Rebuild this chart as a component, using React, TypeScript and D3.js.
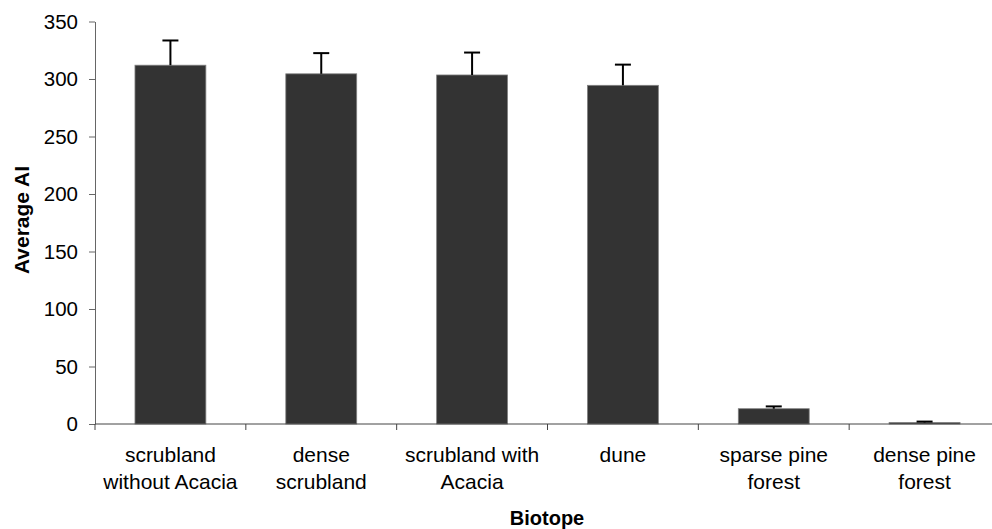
import React, { useEffect, useRef } from 'react'
import * as d3 from 'd3'

const categories = [
  'scrubland\nwithout Acacia',
  'dense\nscrubland',
  'scrubland with\nAcacia',
  'dune',
  'sparse pine\nforest',
  'dense pine\nforest',
]
const means = [312, 304.5, 303.5, 294.5, 13.3, 1.3]
const errors = [21.5, 18, 19.5, 18, 2, 0.8]
const yTicks = [0, 50, 100, 150, 200, 250, 300, 350]

const W = 992
const H = 529
const margin = { top: 21.5, left: 95, bottom: 105, right: -8 }

export default function App() {
  const ref = useRef<SVGSVGElement>(null)

  useEffect(() => {
    const svg = d3.select(ref.current)
    svg.selectAll('*').remove()

    const x = d3.scaleBand()
      .domain(categories)
      .range([margin.left, W - margin.right])
      .paddingInner(0.53)
      .paddingOuter(0.265)
    const y = d3.scaleLinear()
      .domain([0, 350])
      .range([H - margin.bottom, margin.top])

    const font = 'Liberation Sans, Arial, sans-serif'

    // bars
    svg.selectAll('.bar')
      .data(categories)
      .enter().append('rect')
      .attr('x', d => x(d)!)
      .attr('width', x.bandwidth())
      .attr('y', (d, i) => y(means[i]))
      .attr('height', (d, i) => y(0) - y(means[i]))
      .attr('fill', '#333333')
      .attr('stroke', '#808080')
      .attr('stroke-width', 0.8)

    // error bars (upper only)
    const eb = svg.selectAll('.err')
      .data(categories)
      .enter().append('g')
    eb.append('line')
      .attr('x1', d => x(d)! + x.bandwidth() / 2)
      .attr('x2', d => x(d)! + x.bandwidth() / 2)
      .attr('y1', (d, i) => y(means[i]))
      .attr('y2', (d, i) => y(means[i] + errors[i]))
      .attr('stroke', '#000')
      .attr('stroke-width', 2)
    eb.append('line')
      .attr('x1', d => x(d)! + x.bandwidth() / 2 - 8)
      .attr('x2', d => x(d)! + x.bandwidth() / 2 + 8)
      .attr('y1', (d, i) => y(means[i] + errors[i]))
      .attr('y2', (d, i) => y(means[i] + errors[i]))
      .attr('stroke', '#000')
      .attr('stroke-width', 2)

    // y axis
    const yAxis = svg.append('g')
      .attr('transform', 'translate(' + margin.left + ',0)')
      .call(d3.axisLeft(y).tickValues(yTicks).tickSize(6).tickSizeOuter(0))
    yAxis.select('.domain').attr('stroke', '#666')
    yAxis.selectAll('.tick line').attr('stroke', '#666')
    yAxis.selectAll('.tick text')
      .attr('x', -17)
      .attr('fill', '#000')
      .style('font-family', font)
      .style('font-size', '20.5px')

    // x axis
    const step = x.step()
    const x0 = margin.left
    svg.append('line')
      .attr('x1', x0).attr('x2', W)
      .attr('y1', y(0)).attr('y2', y(0))
      .attr('stroke', '#444')
    svg.selectAll('.xtick')
      .data(d3.range(categories.length))
      .enter().append('line')
      .attr('x1', i => x0 + i * step)
      .attr('x2', i => x0 + i * step)
      .attr('y1', y(0))
      .attr('y2', y(0) + 6)
      .attr('stroke', '#444')

    const labels = svg.selectAll('.xlab')
      .data(categories)
      .enter().append('text')
      .attr('text-anchor', 'middle')
      .style('font-family', font)
      .style('font-size', '21px')
      .attr('fill', '#000')
    labels.each(function (d) {
      const t = d3.select(this)
      const cx = x(d)! + x.bandwidth() / 2
      d.split('\n').forEach((line, k) => {
        t.append('tspan')
          .attr('x', cx)
          .attr('y', 462 + k * 26.5)
          .text(line)
      })
    })

    // axis titles
    svg.append('text')
      .attr('x', 547)
      .attr('y', 525)
      .attr('text-anchor', 'middle')
      .style('font-family', font)
      .style('font-size', '20px')
      .style('font-weight', 'bold')
      .text('Biotope')
    svg.append('text')
      .attr('transform', 'translate(29,220) rotate(-90)')
      .attr('text-anchor', 'middle')
      .style('font-family', font)
      .style('font-size', '21px')
      .style('font-weight', 'bold')
      .text('Average AI')
  }, [])

  return (
    <svg ref={ref} width={W} height={H}
      style={{ position: 'absolute', left: 0, top: 0, background: '#fff' }} />
  )
}
